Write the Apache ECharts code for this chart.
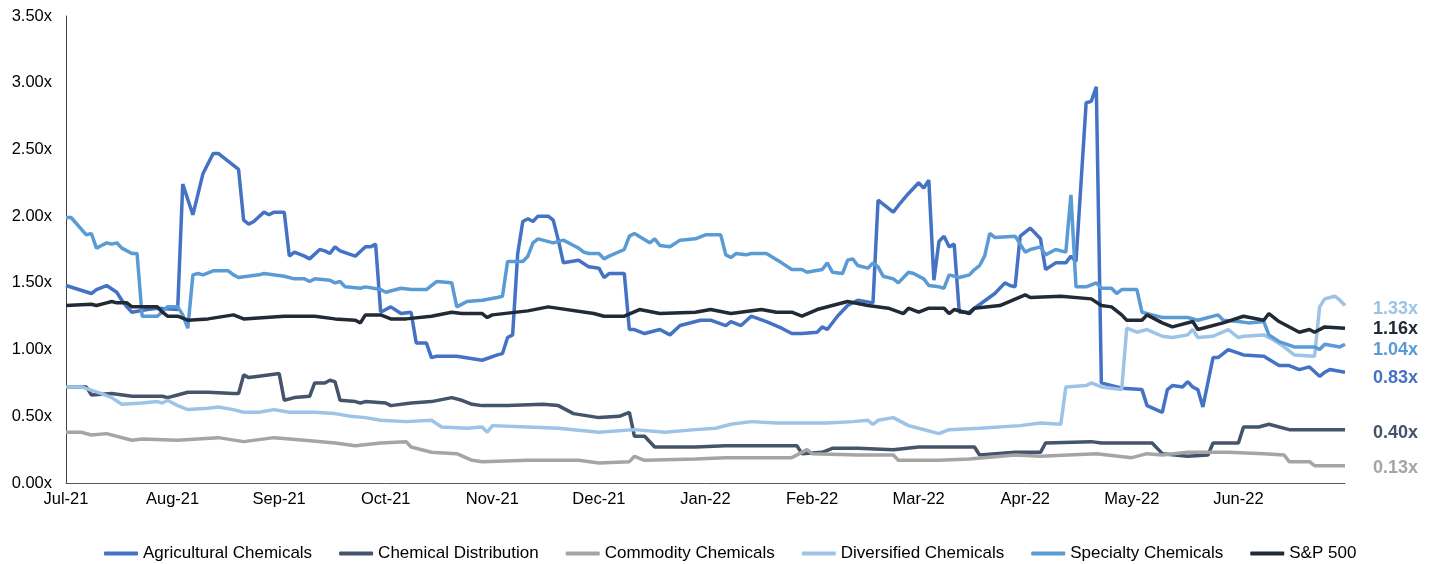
<!DOCTYPE html>
<html>
<head>
<meta charset="utf-8">
<script src="https://cdn.jsdelivr.net/npm/echarts@6/dist/echarts.min.js"></script>
<style>html,body{margin:0;padding:0;background:#fff}#c{width:1437px;height:564px}</style>
</head>
<body>
<div id="c"></div>
<script>
// x = trading-day index (21 per month), y = multiple
const monthLabels = ['Jul-21','Aug-21','Sep-21','Oct-21','Nov-21','Dec-21','Jan-22','Feb-22','Mar-22','Apr-22','May-22','Jun-22'];
const seriesNames = ['Agricultural Chemicals','Chemical Distribution','Commodity Chemicals','Diversified Chemicals','Specialty Chemicals','S&P 500'];

const agricultural = [[0,1.48],[5,1.42],[6,1.45],[8,1.48],[10,1.43],[11,1.37],[12,1.32],[13,1.28],[16,1.30],[18,1.31],[22,1.30],[23,2.24],[25,2.01],[27,2.32],[29,2.47],[30,2.47],[32,2.41],[34,2.35],[35,1.97],[36,1.94],[37,1.96],[39,2.03],[40,2.01],[41,2.03],[43,2.03],[44,1.70],[45,1.73],[47,1.70],[48,1.68],[50,1.75],[51,1.74],[52,1.72],[53,1.77],[54,1.74],[57,1.70],[59,1.77],[60,1.77],[61,1.79],[62,1.28],[63,1.30],[64,1.32],[66,1.27],[68,1.28],[69,1.05],[71,1.05],[72,0.94],[73,0.95],[77,0.95],[82,0.92],[85,0.96],[86,0.97],[87,1.09],[88,1.11],[89,1.72],[90,1.96],[91,1.98],[92,1.96],[93,2.00],[95,2.00],[96,1.97],[97,1.82],[98,1.65],[101,1.67],[103,1.62],[105,1.61],[106,1.54],[107,1.57],[110,1.57],[111,1.15],[112,1.15],[114,1.12],[117,1.15],[119,1.11],[121,1.18],[125,1.22],[127,1.22],[130,1.18],[131,1.21],[133,1.18],[135,1.25],[138,1.21],[141,1.16],[143,1.12],[145,1.12],[148,1.13],[149,1.17],[150,1.15],[152,1.25],[154,1.33],[156,1.37],[159,1.35],[160,2.12],[163,2.03],[164,2.08],[166,2.17],[168,2.25],[169,2.21],[170,2.27],[171,1.52],[172,1.81],[173,1.85],[174,1.77],[175,1.79],[176,1.28],[178,1.28],[179,1.31],[183,1.42],[185,1.50],[186,1.48],[187,1.47],[188,1.85],[190,1.91],[192,1.83],[193,1.60],[195,1.65],[197,1.65],[198,1.70],[199,1.66],[201,2.85],[202,2.86],[203,2.97],[204,0.75],[208,0.71],[212,0.70],[213,0.58],[216,0.53],[217,0.70],[218,0.73],[220,0.72],[221,0.76],[222,0.72],[223,0.70],[224,0.57],[226,0.94],[227,0.94],[229,1.00],[232,0.96],[236,0.95],[239,0.88],[241,0.88],[243,0.85],[245,0.87],[247,0.80],[248,0.83],[249,0.85],[252,0.83]];

const distribution = [[0,0.72],[4,0.72],[5,0.66],[9,0.67],[13,0.65],[19,0.65],[20,0.64],[22,0.66],[24,0.68],[28,0.68],[33,0.67],[34,0.67],[35,0.81],[36,0.79],[38,0.80],[42,0.82],[43,0.62],[45,0.64],[48,0.65],[49,0.75],[51,0.75],[52,0.77],[53,0.76],[54,0.62],[57,0.61],[58,0.60],[59,0.61],[63,0.60],[64,0.58],[68,0.60],[72,0.61],[76,0.64],[78,0.62],[80,0.59],[82,0.58],[87,0.58],[94,0.59],[97,0.58],[100,0.52],[105,0.49],[109,0.50],[111,0.53],[112,0.35],[114,0.35],[116,0.27],[124,0.27],[130,0.28],[137,0.28],[144,0.28],[145,0.22],[149,0.23],[151,0.26],[156,0.26],[163,0.25],[168,0.27],[179,0.27],[180,0.21],[187,0.23],[192,0.23],[193,0.30],[202,0.31],[204,0.30],[214,0.30],[216,0.22],[221,0.20],[225,0.21],[226,0.30],[231,0.30],[232,0.42],[235,0.42],[237,0.44],[241,0.40],[252,0.40]];

const commodity = [[0,0.38],[3,0.38],[5,0.36],[8,0.37],[13,0.32],[15,0.33],[22,0.32],[30,0.34],[35,0.31],[41,0.34],[47,0.32],[53,0.30],[57,0.28],[62,0.30],[67,0.31],[68,0.27],[72,0.23],[77,0.22],[80,0.17],[82,0.16],[91,0.17],[101,0.17],[105,0.15],[111,0.16],[112,0.20],[114,0.17],[124,0.18],[130,0.19],[143,0.19],[146,0.25],[147,0.22],[156,0.21],[163,0.21],[164,0.17],[172,0.17],[178,0.18],[187,0.21],[192,0.20],[203,0.22],[210,0.19],[213,0.22],[216,0.21],[221,0.23],[229,0.23],[236,0.22],[240,0.21],[241,0.16],[245,0.16],[246,0.13],[252,0.13]];

const diversified = [[0,0.72],[3,0.72],[7,0.67],[9,0.64],[11,0.59],[15,0.60],[18,0.61],[19,0.60],[20,0.62],[22,0.58],[24,0.55],[28,0.56],[30,0.57],[33,0.55],[35,0.53],[38,0.53],[41,0.55],[44,0.53],[49,0.53],[53,0.52],[56,0.50],[59,0.49],[62,0.47],[67,0.46],[72,0.47],[74,0.42],[79,0.41],[82,0.42],[83,0.38],[84,0.43],[91,0.42],[97,0.41],[105,0.38],[112,0.40],[118,0.38],[124,0.40],[128,0.41],[131,0.44],[135,0.46],[140,0.45],[145,0.45],[150,0.45],[155,0.46],[158,0.47],[159,0.44],[160,0.47],[163,0.49],[166,0.43],[168,0.41],[172,0.37],[174,0.40],[180,0.41],[188,0.43],[192,0.45],[196,0.44],[197,0.72],[201,0.73],[202,0.75],[204,0.72],[208,0.70],[209,1.16],[211,1.13],[213,1.15],[216,1.10],[218,1.09],[221,1.11],[222,1.15],[223,1.09],[226,1.10],[229,1.15],[231,1.09],[232,1.10],[236,1.11],[238,1.07],[240,1.02],[242,0.96],[246,0.95],[247,1.32],[248,1.38],[250,1.40],[251,1.37],[252,1.33]];

const specialty = [[0,1.99],[1,1.99],[4,1.86],[5,1.87],[6,1.76],[7,1.78],[8,1.80],[9,1.79],[10,1.80],[11,1.76],[13,1.72],[14,1.72],[15,1.25],[18,1.25],[20,1.32],[22,1.32],[23,1.26],[24,1.16],[25,1.56],[26,1.57],[27,1.56],[29,1.59],[32,1.59],[33,1.56],[34,1.54],[38,1.56],[39,1.57],[43,1.55],[45,1.53],[47,1.53],[48,1.51],[49,1.53],[52,1.52],[53,1.50],[54,1.51],[55,1.47],[58,1.46],[59,1.47],[62,1.45],[63,1.43],[66,1.46],[68,1.45],[71,1.45],[73,1.51],[76,1.50],[77,1.32],[79,1.36],[82,1.37],[85,1.39],[86,1.40],[87,1.66],[90,1.66],[91,1.70],[92,1.80],[93,1.83],[96,1.80],[98,1.82],[100,1.78],[101,1.76],[102,1.73],[103,1.72],[105,1.72],[106,1.68],[107,1.70],[110,1.75],[111,1.85],[112,1.87],[115,1.80],[116,1.83],[117,1.78],[119,1.77],[121,1.82],[124,1.83],[126,1.86],[129,1.86],[130,1.71],[131,1.69],[132,1.72],[134,1.71],[135,1.72],[138,1.72],[141,1.65],[143,1.60],[145,1.60],[146,1.58],[149,1.60],[150,1.65],[151,1.58],[153,1.57],[154,1.67],[155,1.68],[156,1.63],[158,1.61],[159,1.65],[160,1.62],[161,1.55],[163,1.53],[164,1.50],[166,1.58],[167,1.57],[169,1.53],[170,1.48],[172,1.47],[173,1.46],[174,1.56],[176,1.54],[178,1.56],[179,1.60],[180,1.63],[181,1.70],[182,1.87],[183,1.84],[187,1.85],[189,1.73],[190,1.75],[192,1.77],[193,1.71],[195,1.75],[197,1.73],[198,2.16],[199,1.47],[201,1.47],[203,1.50],[204,1.46],[206,1.46],[207,1.42],[208,1.45],[211,1.45],[212,1.28],[214,1.26],[216,1.24],[221,1.24],[223,1.22],[227,1.26],[228,1.22],[231,1.21],[233,1.20],[236,1.21],[237,1.11],[239,1.06],[242,1.02],[246,1.02],[247,1.00],[248,1.04],[251,1.02],[252,1.04]];

const sp500 = [[0,1.33],[5,1.34],[6,1.33],[8,1.35],[9,1.36],[10,1.35],[12,1.35],[13,1.32],[18,1.32],[19,1.28],[20,1.25],[22,1.25],[24,1.22],[28,1.23],[33,1.26],[35,1.23],[43,1.25],[49,1.25],[53,1.23],[57,1.22],[58,1.20],[59,1.26],[62,1.26],[64,1.23],[67,1.23],[72,1.25],[76,1.28],[78,1.27],[82,1.27],[83,1.24],[84,1.26],[91,1.29],[95,1.32],[104,1.27],[106,1.25],[110,1.25],[113,1.30],[117,1.27],[124,1.28],[127,1.30],[131,1.27],[137,1.30],[140,1.28],[143,1.28],[145,1.25],[148,1.30],[151,1.33],[154,1.36],[158,1.33],[162,1.31],[165,1.27],[166,1.31],[168,1.28],[170,1.31],[173,1.31],[174,1.27],[175,1.30],[178,1.27],[179,1.31],[184,1.33],[189,1.41],[190,1.39],[196,1.40],[202,1.38],[204,1.33],[206,1.32],[208,1.26],[209,1.22],[212,1.22],[213,1.26],[216,1.20],[218,1.17],[222,1.21],[223,1.15],[228,1.20],[232,1.25],[236,1.22],[237,1.27],[239,1.21],[243,1.13],[245,1.15],[246,1.13],[248,1.17],[252,1.16]];

const seriesData = [agricultural, distribution, commodity, diversified, specialty, sp500];
const colors = ['#4472C4','#44546A','#A5A5A5','#9DC3E6','#5B9BD5','#222A35'];
const labelOffsets = [[0,6],[0,3],[0,2],[0,3],[0,6],[0,1]];

const FONT = '"Liberation Sans", Arial, sans-serif';
const chart = echarts.init(document.getElementById('c'), null, {renderer:'canvas'});
chart.setOption({
  animation: false,
  backgroundColor: '#ffffff',
  color: colors,
  grid: {left: 66, right: 92, top: 16, bottom: 81, containLabel: false},
  legend: {
    top: 545, left: 104, padding: 0,
    itemWidth: 34, itemHeight: 4, itemGap: 27,
    icon: 'roundRect',
    textStyle: {fontFamily: FONT, fontSize: 17, color: '#000'},
    data: seriesNames
  },
  xAxis: {
    type: 'value', min: 0, max: 252, interval: 21,
    axisLine: {show: true, lineStyle: {color: '#595959', width: 1}},
    axisTick: {show: false},
    splitLine: {show: false},
    axisLabel: {
      fontFamily: FONT, fontSize: 16.5, color: '#000', margin: 8,
      formatter: v => monthLabels[Math.round(v / 21)] || ''
    }
  },
  yAxis: {
    type: 'value', min: 0, max: 3.5, interval: 0.5,
    axisLine: {show: true, lineStyle: {color: '#404040', width: 1}},
    axisTick: {show: false},
    splitLine: {show: false},
    axisLabel: {fontFamily: FONT, fontSize: 16.5, color: '#000', margin: 14, formatter: v => v.toFixed(2) + 'x'}
  },
  series: seriesNames.map((name, i) => ({
    name, type: 'line', data: seriesData[i],
    showSymbol: false, symbol: 'none',
    lineStyle: {width: 3.5, color: colors[i]},
    itemStyle: {color: colors[i]},
    endLabel: {
      show: true, distance: 28, offset: labelOffsets[i],
      fontFamily: FONT, fontSize: 18, fontWeight: 'bold', color: colors[i],
      formatter: p => p.value[1].toFixed(2) + 'x'
    },
    z: 2 + i
  }))
});
</script>
</body>
</html>
